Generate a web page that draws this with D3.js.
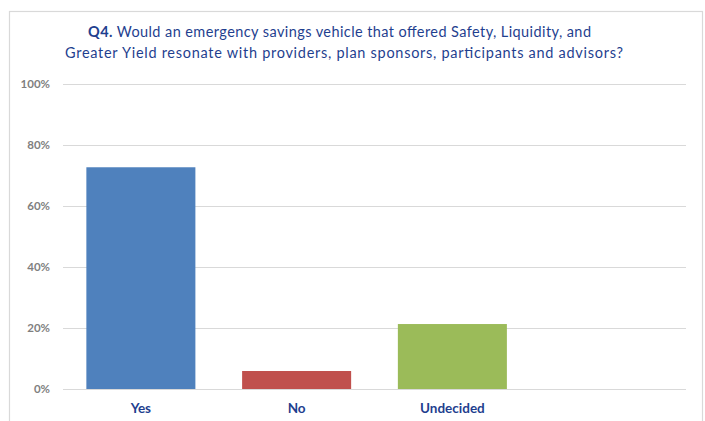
<!DOCTYPE html>
<html>
<head>
<meta charset="utf-8">
<script src="https://cdn.jsdelivr.net/npm/d3@7"></script>
<style>
  html, body { margin: 0; padding: 0; background: #fff; }
  svg { display: block; }
</style>
</head>
<body>
<svg id="chart" width="705" height="421"></svg>
<script>
// Survey answers (share of respondents, %); the fourth slot is an unused category
const categories = ["Yes", "No", "Undecided", ""];
const shares = [72.7, 5.9, 21.3, null];
const barColors = ["#4f81bd", "#c0504d", "#9bbb59", "#8064a2"];
const yTicks = [0, 20, 40, 60, 80, 100];
const titleBold = "Q4.";
const titleLine1 = " Would an emergency savings vehicle that offered Safety, Liquidity, and";
const titleLine2 = "Greater Yield resonate with providers, plan sponsors, participants and advisors?";

const font = "Lato, 'Open Sans', sans-serif";
const svg = d3.select("#chart");

// outer frame
svg.append("rect")
  .attr("x", 9.5).attr("y", 11.5)
  .attr("width", 693).attr("height", 420)
  .attr("fill", "#fff").attr("stroke", "#d9d9d9").attr("stroke-width", 1.2);

const plot = { left: 63, right: 686, top: 84, bottom: 389 };

const x = d3.scaleBand()
  .domain(categories.map((c, i) => i))
  .range([plot.left, plot.right])
  .paddingInner(0.3).paddingOuter(0.15);

const y = d3.scaleLinear().domain([0, 100]).range([plot.bottom, plot.top]);

// gridlines
svg.append("g")
  .selectAll("line")
  .data(yTicks)
  .join("line")
  .attr("x1", plot.left).attr("x2", plot.right)
  .attr("y1", d => Math.round(y(d)) + 0.5).attr("y2", d => Math.round(y(d)) + 0.5)
  .attr("stroke", "#d9d9d9").attr("stroke-width", 1.2);

// y axis labels
const yAxis = d3.axisLeft(y).tickValues(yTicks).tickFormat(d => d + "%").tickSize(0).tickPadding(0);
const yg = svg.append("g").attr("transform", `translate(50,0)`).call(yAxis);
yg.select(".domain").remove();
yg.selectAll("text")
  .attr("fill", "#7f7f7f")
  .attr("font-family", font)
  .attr("font-weight", "bold")
  .attr("font-size", 11.5);

// bars
const data = categories.map((c, i) => ({ i, c, v: shares[i] })).filter(d => d.v != null);
svg.append("g")
  .selectAll("rect")
  .data(data)
  .join("rect")
  .attr("x", d => x(d.i))
  .attr("width", x.bandwidth())
  .attr("y", d => y(d.v))
  .attr("height", d => y(0) - y(d.v))
  .attr("fill", d => barColors[d.i]);

// category labels
const xAxis = d3.axisBottom(x).tickFormat(i => categories[i]).tickSize(0).tickPadding(0);
const xg = svg.append("g").attr("transform", `translate(0,403)`).call(xAxis);
xg.select(".domain").remove();
xg.selectAll("text")
  .attr("fill", "#1f3f8f")
  .attr("font-family", font)
  .attr("font-weight", "bold")
  .attr("font-size", 13.5);

// two-line title, each line stretched to its set width
const titleStyle = sel => sel
  .attr("font-family", font)
  .attr("font-size", 14.5)
  .attr("fill", "#1f3f8f")
  .attr("lengthAdjust", "spacing");

const t1 = svg.append("text").call(titleStyle)
  .attr("x", 88).attr("y", 37).attr("textLength", 503);
t1.append("tspan").attr("font-weight", "bold").text(titleBold);
t1.append("tspan").text(titleLine1);

svg.append("text").call(titleStyle)
  .attr("x", 65).attr("y", 57.5).attr("textLength", 558)
  .text(titleLine2);
</script>
</body>
</html>
